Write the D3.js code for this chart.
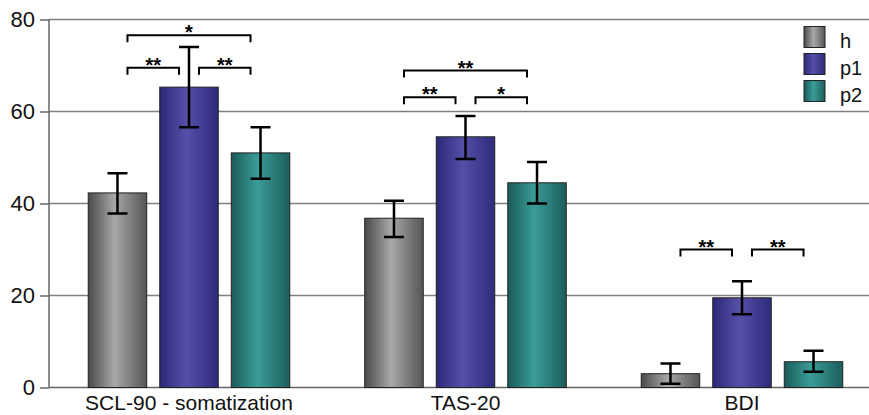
<!DOCTYPE html>
<html><head><meta charset="utf-8">
<script src="https://cdn.jsdelivr.net/npm/d3@7"></script>
<style>body{margin:0;background:#fff}svg{display:block}</style>
</head><body>
<svg id="c" width="869" height="415"></svg>
<script>
const categories = ["SCL-90 - somatization", "TAS-20", "BDI"];
const groups = ["h", "p1", "p2"];
const hValues = [42.3, 36.8, 3.0];
const p1Values = [65.3, 54.5, 19.5];
const p2Values = [51.0, 44.5, 5.6];
const hErr = [[37.8, 46.6], [32.7, 40.6], [0.8, 5.2]];
const p1Err = [[56.6, 74.0], [49.7, 59.0], [15.9, 23.1]];
const p2Err = [[45.4, 56.6], [40.0, 49.0], [3.4, 8.0]];
const yTicks = [0, 20, 40, 60, 80];
// significance brackets: category, from group, to group, level (value), label
const brackets = [
  [0, "h", "p2", 76.6, "*"],
  [0, "h", "p1", 69.5, "**"],
  [0, "p1", "p2", 69.5, "**"],
  [1, "h", "p2", 68.9, "**"],
  [1, "h", "p1", 63.1, "**"],
  [1, "p1", "p2", 63.1, "*"],
  [2, "h", "p1", 30.0, "**"],
  [2, "p1", "p2", 30.0, "**"]
];

const values = {h: hValues, p1: p1Values, p2: p2Values};
const errs = {h: hErr, p1: p1Err, p2: p2Err};
const colors = {
  h: ["#4a4a4a", "#a8a8a8", "#555555"],
  p1: ["#2c2878", "#5550a8", "#2e2a7c"],
  p2: ["#1a5a58", "#3a9c98", "#1c5e5c"]
};
const font = "Liberation Sans, Arial, sans-serif";

const svg = d3.select("#c");
const x0 = 50.75, plotW = 829.5, yTop = 19.5, yBot = 387.5;
const x = d3.scaleBand().domain(categories).range([x0, x0 + plotW]).paddingInner(0).paddingOuter(0);
const xs = d3.scaleBand().domain(groups).range([0, x.bandwidth()]).paddingInner(0.182).paddingOuter(0.524);
const y = d3.scaleLinear().domain([0, 80]).range([yBot, yTop]);

const defs = svg.append("defs");
groups.forEach(g => {
  const lg = defs.append("linearGradient").attr("id", "g_" + g).attr("x1", "0").attr("x2", "1").attr("y1", "0").attr("y2", "0");
  lg.append("stop").attr("offset", "0%").attr("stop-color", colors[g][0]);
  lg.append("stop").attr("offset", "45%").attr("stop-color", colors[g][1]);
  lg.append("stop").attr("offset", "100%").attr("stop-color", colors[g][2]);
});

// gridlines
svg.append("g").selectAll("line").data(yTicks.filter(d => d > 0)).join("line")
  .attr("x1", 49).attr("x2", 869).attr("y1", d => y(d)).attr("y2", d => y(d))
  .attr("stroke", "#808080").attr("stroke-width", 1.5);

// y axis
const yAxis = d3.axisLeft(y).tickValues(yTicks).tickSize(9).tickPadding(5);
const ya = svg.append("g").attr("transform", "translate(49,0)").call(yAxis);
ya.select(".domain").attr("stroke", "#666").attr("stroke-width", 1.5).attr("d", `M0,${yTop}V${yBot}`);
ya.selectAll(".tick line").attr("stroke", "#666").attr("stroke-width", 1.5);
ya.selectAll(".tick text").attr("font-family", font).attr("font-size", 22).attr("fill", "#111");

// bottom axis line
svg.append("line").attr("x1", 49).attr("x2", 869).attr("y1", yBot).attr("y2", yBot).attr("stroke", "#666").attr("stroke-width", 1.5);

// bars
const cg = svg.append("g").selectAll("g").data(categories).join("g")
  .attr("transform", d => `translate(${x(d)},0)`);
cg.each(function(cat, ci) {
  const g = d3.select(this);
  groups.forEach(gr => {
    const v = values[gr][ci];
    g.append("rect").attr("x", xs(gr)).attr("width", xs.bandwidth())
      .attr("y", y(v)).attr("height", y(0) - y(v))
      .attr("fill", `url(#g_${gr})`).attr("stroke", "#222").attr("stroke-width", 1);
    const [lo, hi] = errs[gr][ci];
    const cx = xs(gr) + xs.bandwidth() / 2;
    g.append("path").attr("d", `M${cx},${y(lo)}V${y(hi)}M${cx-10},${y(lo)}H${cx+10}M${cx-10},${y(hi)}H${cx+10}`)
      .attr("stroke", "#000").attr("stroke-width", 2.5).attr("fill", "none");
  });
});

// brackets
brackets.forEach(([ci, a, b, lvl, lab]) => {
  const base = x(categories[ci]);
  const xa = base + xs(a) + xs.bandwidth() / 2 + 10;
  const xb = base + xs(b) + xs.bandwidth() / 2 - 10;
  const yy = y(lvl);
  svg.append("path").attr("d", `M${xa},${yy + 7}V${yy}H${xb}V${yy + 7}`)
    .attr("stroke", "#000").attr("stroke-width", 2).attr("fill", "none");
  svg.append("text").attr("x", (xa + xb) / 2).attr("y", yy + 4).attr("text-anchor", "middle")
    .attr("font-family", font).attr("font-size", 20).attr("font-weight", "bold")
    .text(lab);
});

// category labels
svg.append("g").selectAll("text").data(categories).join("text")
  .attr("x", d => x(d) + xs("p1") + xs.bandwidth() / 2).attr("y", 410)
  .attr("text-anchor", "middle").attr("font-family", font)
  .attr("font-size", 21).attr("fill", "#111").text(d => d);

// legend
const lg = svg.append("g").attr("transform", "translate(804,26.5)");
groups.forEach((gr, i) => {
  lg.append("rect").attr("x", 0).attr("y", i * 27).attr("width", 21).attr("height", 21)
    .attr("fill", `url(#g_${gr})`).attr("stroke", "#222").attr("stroke-width", 1);
  lg.append("text").attr("x", 36).attr("y", i * 27 + 21).attr("font-family", font)
    .attr("font-size", 20).attr("fill", "#111").text(gr);
});
</script>
</body></html>
